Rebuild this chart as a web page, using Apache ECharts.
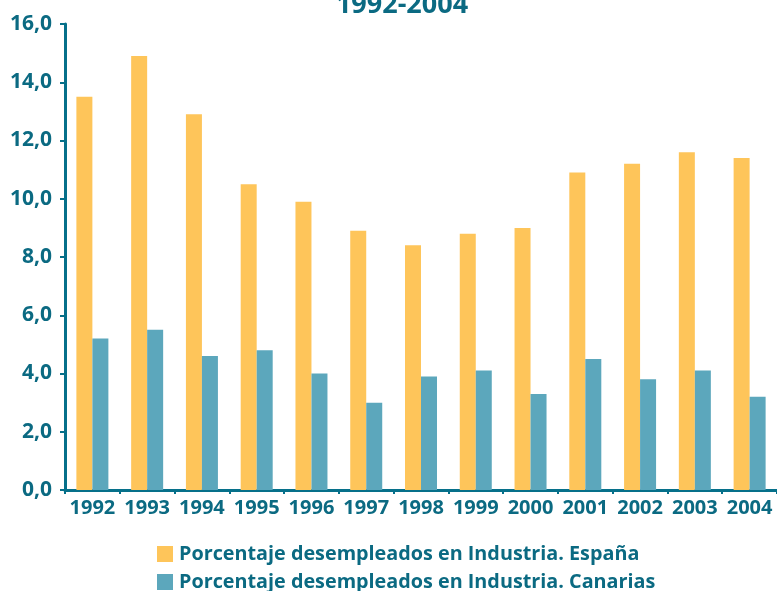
<!DOCTYPE html>
<html>
<head>
<meta charset="utf-8">
<script src="https://cdn.jsdelivr.net/npm/echarts@6/dist/echarts.min.js"></script>
<style>
  html, body { margin: 0; padding: 0; background: #fff; }
  #chart { width: 777px; height: 591px; }
</style>
</head>
<body>
<div id="chart"></div>
<script>
const years = ['1992', '1993', '1994', '1995', '1996', '1997', '1998', '1999', '2000', '2001', '2002', '2003', '2004']
const espana = [13.5, 14.9, 12.9, 10.5, 9.9, 8.9, 8.4, 8.8, 9.0, 10.9, 11.2, 11.6, 11.4]
const canarias = [5.2, 5.5, 4.6, 4.8, 4.0, 3.0, 3.9, 4.1, 3.3, 4.5, 3.8, 4.1, 3.2]
const seriesNames = ['Porcentaje desempleados en Industria. España', 'Porcentaje desempleados en Industria. Canarias']

const textColor = '#0b6a82'
const axisColor = '#06708a'
const font = '"Open Sans", "Noto Sans", sans-serif'

const chart = echarts.init(document.getElementById('chart'))

// one legend per row, stacked
const legendRow = (name, top) => ({
  left: 152,
  top: top,
  itemWidth: 16,
  itemHeight: 16,
  icon: 'rect',
  textStyle: { color: textColor, fontFamily: font, fontWeight: 'bold', fontSize: 19.8, padding: [0, 0, 0, 1] },
  data: [name]
})

chart.setOption({
  animation: false,
  title: {
    text: '1992-2004',
    left: 397,
    top: -13,
    textAlign: 'center',
    textStyle: { color: textColor, fontFamily: font, fontWeight: 'bold', fontSize: 27 }
  },
  legend: [legendRow(seriesNames[0], 539), legendRow(seriesNames[1], 567)],
  grid: {
    left: 65,
    right: -3,
    top: 24,
    bottom: 101
  },
  xAxis: {
    type: 'category',
    data: years,
    axisLine: { lineStyle: { color: axisColor, width: 3 } },
    axisTick: { show: true, interval: 0, length: 4, lineStyle: { color: axisColor, width: 2 } },
    axisLabel: { interval: 0, color: textColor, fontFamily: font, fontWeight: 'bold', fontSize: 20, margin: 8 }
  },
  yAxis: {
    type: 'value',
    min: 0,
    max: 16,
    interval: 2,
    splitLine: { show: false },
    axisLine: { show: true, lineStyle: { color: axisColor, width: 3 } },
    axisTick: { show: true, length: 5, lineStyle: { color: axisColor, width: 2 } },
    axisLabel: {
      color: textColor, fontFamily: font, fontWeight: 'bold', fontSize: 21, margin: 13,
      formatter: v => v.toFixed(1).replace('.', ',')
    }
  },
  series: [{
    name: seriesNames[0],
    type: 'bar',
    data: espana,
    barWidth: 16,
    barGap: '0%',
    itemStyle: { color: '#fec55a' }
  }, {
    name: seriesNames[1],
    type: 'bar',
    data: canarias,
    barWidth: 16,
    barGap: '0%',
    itemStyle: { color: '#5ca7bc' }
  }]
})
</script>
</body>
</html>
